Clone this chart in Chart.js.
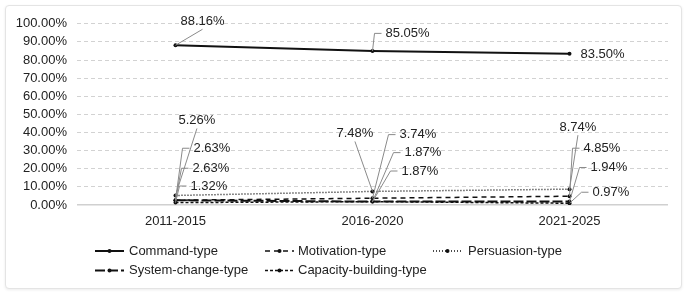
<!DOCTYPE html>
<html>
<head>
<meta charset="utf-8">
<script src="https://cdn.jsdelivr.net/npm/chart.js@4/dist/chart.umd.min.js"></script>
<style>
  html, body { margin: 0; padding: 0; background: #fff; }
  #frame {
    position: absolute; left: 5px; top: 5px;
    width: 675px; height: 282px;
    border: 1px solid #e4e4e4; border-radius: 4px;
    box-shadow: 0 1px 3px rgba(0, 0, 0, 0.08);
    background: #fff;
  }
  canvas { display: block; }
</style>
</head>
<body>
<div id="frame"><canvas id="chart" width="675" height="282"></canvas></div>
<script>
const periods = ["2011-2015", "2016-2020", "2021-2025"];
const seriesNames = [
  "Command-type",
  "Motivation-type",
  "Persuasion-type",
  "System-change-type",
  "Capacity-building-type",
];
const commandType = [88.16, 85.05, 83.50];
const motivationType = [2.63, 3.74, 4.85];
const persuasionType = [5.26, 7.48, 8.74];
const systemChangeType = [2.63, 1.87, 1.94];
const capacityBuildingType = [1.32, 1.87, 0.97];
const yTicks = [0, 10, 20, 30, 40, 50, 60, 70, 80, 90, 100];

const FONT = '"Liberation Sans", Arial, Helvetica, sans-serif';
const TEXT = "#222";

// line look for each series, same order as seriesNames
const styles = [
  { dash: [], width: 2 },
  { dash: [5, 4], width: 1.5 },
  { dash: [1, 2], width: 1.5 },
  { dash: [10, 3], width: 2 },
  { dash: [3, 2], width: 1.5 },
];

// where each value label sits, relative to its point: text left, text middle, leader kind
const labelPos = [
  [{ dx: 5, dy: -24, lead: "line" }, { dx: 13, dy: -17.5, lead: "elbow" }, { dx: 11, dy: 0.6, lead: "none" }],
  [{ dx: 18, dy: -52, lead: "elbow" }, { dx: 27, dy: -63.6, lead: "elbow" }, { dx: 14, dy: -48, lead: "elbow" }],
  [{ dx: 3, dy: -75, lead: "line" }, { dx: -36, dy: -58, lead: "line" }, { dx: -10, dy: -62, lead: "line" }],
  [{ dx: 17, dy: -32, lead: "elbow" }, { dx: 32, dy: -49, lead: "elbow" }, { dx: 21, dy: -34, lead: "elbow" }],
  [{ dx: 15, dy: -16.6, lead: "elbow" }, { dx: 29, dy: -30.6, lead: "elbow" }, { dx: 23, dy: -11, lead: "elbow" }],
];

// legend slots (canvas px): sample line start, text start, row
const legendSlots = [
  { x: 89, tx: 123, row: 0 },
  { x: 259, tx: 292, row: 0 },
  { x: 427, tx: 462, row: 0 },
  { x: 89, tx: 123, row: 1 },
  { x: 259, tx: 292, row: 1 },
];
const legendRows = [245, 264.5];

const allValues = [commandType, motivationType, persuasionType, systemChangeType, capacityBuildingType];

const valueLabels = {
  id: "valueLabels",
  afterDatasetsDraw(chart) {
    const c = chart.ctx;
    c.save();
    c.font = "13px " + FONT;
    c.textBaseline = "middle";
    c.textAlign = "left";
    chart.data.datasets.forEach((ds, i) => {
      const meta = chart.getDatasetMeta(i);
      meta.data.forEach((pt, j) => {
        const pos = labelPos[i][j];
        const txt = ds.data[j].toFixed(2) + "%";
        const w = c.measureText(txt).width;
        const left = pt.x + pos.dx;
        const cy = pt.y + pos.dy;
        c.strokeStyle = "#8a8a8a";
        c.lineWidth = 1;
        c.setLineDash([]);
        if (pos.lead === "line") {
          c.beginPath();
          c.moveTo(pt.x, pt.y);
          c.lineTo(left + w / 2, cy + 8);
          c.stroke();
        } else if (pos.lead === "elbow") {
          c.beginPath();
          c.moveTo(pt.x, pt.y);
          c.lineTo(left - 11, cy);
          c.lineTo(left - 4, cy);
          c.stroke();
        }
        c.fillStyle = TEXT;
        c.fillText(txt, left, cy);
      });
    });
    c.restore();
  },
};

const customLegend = {
  id: "customLegend",
  afterDraw(chart) {
    const c = chart.ctx;
    c.save();
    c.font = "13px " + FONT;
    c.textBaseline = "middle";
    seriesNames.forEach((name, i) => {
      const s = legendSlots[i];
      const y = legendRows[s.row];
      const st = styles[i];
      c.strokeStyle = "#111";
      c.lineWidth = st.width;
      c.setLineDash(st.dash);
      c.beginPath();
      c.moveTo(s.x, y);
      c.lineTo(s.x + 29, y);
      c.stroke();
      c.setLineDash([]);
      c.fillStyle = "#111";
      c.beginPath();
      c.arc(s.x + 14.5, y, 2, 0, Math.PI * 2);
      c.fill();
      c.fillStyle = TEXT;
      c.fillText(name, s.tx, y);
    });
    c.restore();
  },
};

const datasets = seriesNames.map((name, i) => ({
  label: name,
  data: allValues[i],
  borderColor: "#111",
  backgroundColor: "#111",
  borderWidth: styles[i].width,
  borderDash: styles[i].dash,
  pointRadius: 2,
  pointBackgroundColor: "#111",
  pointBorderWidth: 0,
  fill: false,
  tension: 0,
}));

new Chart(document.getElementById("chart"), {
  type: "line",
  data: { labels: periods, datasets: datasets },
  plugins: [valueLabels, customLegend],
  options: {
    responsive: false,
    animation: false,
    layout: { padding: { top: 15, right: 13, left: 0, bottom: 53 } },
    plugins: { legend: { display: false }, tooltip: { enabled: false } },
    scales: {
      x: {
        offset: true,
        grid: { display: false, drawTicks: false },
        border: { display: false },
        ticks: { color: TEXT, padding: 9, font: { size: 13, family: FONT } },
        afterFit: (scale) => { scale.height = 30; },
      },
      y: {
        min: 0,
        max: 100,
        afterBuildTicks: (scale) => { scale.ticks = yTicks.map((v) => ({ value: v })); },
        afterFit: (scale) => { scale.width = 71; },
        grid: {
          drawTicks: false,
          color: (ctx) => (ctx.tick && ctx.tick.value === 0 ? "#d0d0d0" : "#d2d2d2"),
          lineWidth: (ctx) => (ctx.tick && ctx.tick.value === 0 ? 1.5 : 1),
        },
        border: {
          display: false,
          dash: (ctx) => (ctx.tick && ctx.tick.value === 0 ? [] : [4, 3]),
        },
        ticks: {
          color: TEXT,
          padding: 10,
          autoSkip: false,
          font: { size: 13, family: FONT },
          callback: (v) => Number(v).toFixed(2) + "%",
        },
      },
    },
  },
});
</script>
</body>
</html>
